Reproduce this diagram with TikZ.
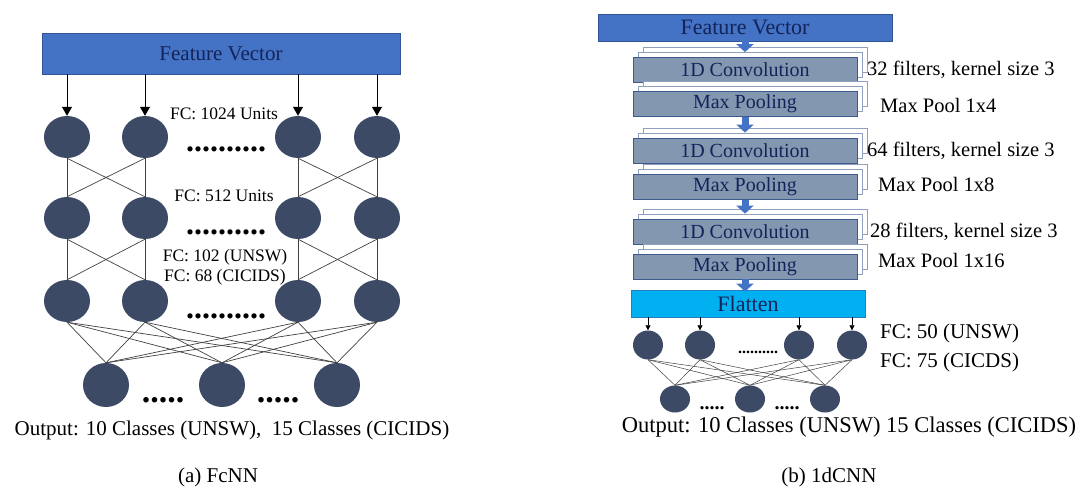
\documentclass[tikz,border=0pt]{standalone}
\usepackage{fontspec}
\setmainfont{Liberation Serif}
\usetikzlibrary{shapes.geometric,arrows.meta,calc}
\definecolor{fvblue}{HTML}{4472C4}
\definecolor{fvedge}{HTML}{2F5597}
\definecolor{navytext}{HTML}{14245A}
\definecolor{neuron}{HTML}{3C4A66}
\definecolor{linegray}{HTML}{404040}
\definecolor{layerfill}{HTML}{8497B0}
\definecolor{layeredge}{HTML}{3E5A8C}
\definecolor{backedge}{HTML}{8FA0BC}
\definecolor{flatfill}{HTML}{00B0F0}
\definecolor{flatedge}{HTML}{1F7FC0}
\newcommand\myfs[1]{\fontsize{#1}{#1}\selectfont}
\newcommand\cnnlayer[3]{%
  \node[backlayer] (#1b2) at (755,#2-10) {};
  \node[backlayer] (#1b1) at (750,#2-5) {};
  \node[frontlayer] (#1) at (745,#2) {#3};
}
\begin{document}
\begin{tikzpicture}[x=1pt,y=-1pt,
  neuronL/.style={ellipse, fill=neuron, draw=none, minimum width=46pt, minimum height=42pt, inner sep=0pt},
  neuronR/.style={ellipse, fill=neuron, draw=none, minimum width=30pt, minimum height=29pt, inner sep=0pt},
  neuronRo/.style={ellipse, fill=neuron, draw=none, minimum width=30pt, minimum height=27pt, inner sep=0pt},
  conn/.style={draw=linegray, line width=0.7pt},
  arrL/.style={draw=black, line width=0.9pt, -{Triangle[width=10pt,length=9pt]}},
  arrR/.style={draw=black, line width=0.7pt, -{Triangle[width=5pt,length=5pt]}},
  blockarrow/.style={draw=fvblue, line width=7pt, -{Triangle[width=17pt,length=8pt]}},
  fvbox/.style={rectangle, fill=fvblue, draw=fvedge, line width=0.8pt, text=navytext, inner sep=0pt},
  backlayer/.style={rectangle, minimum width=224pt, minimum height=25pt, fill=white, draw=backedge, line width=0.8pt, inner sep=0pt},
  frontlayer/.style={rectangle, minimum width=224pt, minimum height=25pt, fill=layerfill, draw=layeredge, line width=0.8pt, text=navytext, font=\myfs{20}, inner sep=0pt},
  lbl/.style={inner sep=0pt, text=black},
  dotsL/.style={inner sep=0pt, anchor=base, font=\bfseries\myfs{32}},
]
\useasboundingbox (0,0) rectangle (1086,489);

% ---------------- Left panel (FcNN) ----------------
\node[fvbox, minimum width=358pt, minimum height=41pt, font=\myfs{21}] (fv1) at (221,53.5) {Feature Vector};

\node[neuronL] (a1) at (67,137) {};
\node[neuronL] (a2) at (145,137) {};
\node[neuronL] (a3) at (298,137) {};
\node[neuronL] (a4) at (377,137) {};
\node[neuronL] (b1) at (67,218) {};
\node[neuronL] (b2) at (145,218) {};
\node[neuronL] (b3) at (298,218) {};
\node[neuronL] (b4) at (377,218) {};
\node[neuronL] (c1) at (67,301) {};
\node[neuronL] (c2) at (145,301) {};
\node[neuronL] (c3) at (298,301) {};
\node[neuronL] (c4) at (377,301) {};
\node[neuronL, minimum height=44pt] (o1) at (106,385) {};
\node[neuronL, minimum height=44pt] (o2) at (222,385) {};
\node[neuronL, minimum height=44pt] (o3) at (337,385) {};

\foreach \n in {a1,a2,a3,a4} \draw[arrL] (fv1.south -| \n) -- (\n.north);

\foreach \u/\v in {a1/b1,a1/b2,a2/b1,a2/b2,a3/b3,a3/b4,a4/b3,a4/b4,
                   b1/c1,b1/c2,b2/c1,b2/c2,b3/c3,b3/c4,b4/c3,b4/c4}
  \draw[conn] (\u.south) -- (\v.north);
\foreach \u in {c1,c2,c3,c4}
  \foreach \v in {o1,o2,o3}
    \draw[conn] (\u.south) -- (\v.north);

\node[lbl, font=\myfs{17.5}] (l1) at (224,114) {FC: 1024 Units};
\node[lbl, font=\myfs{17.5}] (l2) at (224,196) {FC: 512 Units};
\node[lbl, font=\myfs{17.5}] (l3) at (225,257) {FC: 102 (UNSW)};
\node[lbl, font=\myfs{17.5}] (l4) at (225,277) {FC: 68 (CICIDS)};

\node[dotsL] (d1) at (226,152) {..........};
\node[dotsL] (d2) at (226,234) {..........};
\node[dotsL] (d3) at (226,318) {..........};
\node[dotsL, font=\bfseries\myfs{34}] (d4) at (163,402) {.....};
\node[dotsL, font=\bfseries\myfs{34}] (d5) at (278,402) {.....};

\node[lbl, font=\myfs{21}] (outL) at (232,430) {Output: 10 Classes (UNSW),\ \ 15 Classes (CICIDS)};
\node[lbl, font=\myfs{21}] (capA) at (218,477) {(a) FcNN};

% ---------------- Right panel (1dCNN) ----------------
\node[fvbox, minimum width=294pt, minimum height=27pt, font=\myfs{22}] (fv2) at (745,27.5) {Feature Vector};

\cnnlayer{conv1}{70}{1D Convolution}
\cnnlayer{pool1}{104}{Max Pooling}
\cnnlayer{conv2}{150.5}{1D Convolution}
\cnnlayer{pool2}{187}{Max Pooling}
\cnnlayer{conv3}{231.5}{1D Convolution}
\cnnlayer{pool3}{266.5}{Max Pooling}

\node[rectangle, minimum width=234pt, minimum height=27pt, fill=flatfill, draw=flatedge, line width=0.8pt, text=navytext, font=\myfs{22}, inner sep=0pt] (flat) at (748,303.5) {Flatten};

\draw[blockarrow] (fv2.south) -- (fv2.south |- conv1b1.north);
\draw[blockarrow] (pool1.south) -- (pool1.south |- conv2b1.north);
\draw[blockarrow] (pool2.south) -- (pool2.south |- conv3b1.north);
\draw[blockarrow] (pool3.south) -- ($(pool3.south |- flat.north)+(0,2)$);

\node[lbl, anchor=west, font=\myfs{20.5}] (t1) at (867,70) {32 filters, kernel size 3};
\node[lbl, anchor=west, font=\myfs{20.5}] (t2) at (880,105) {Max Pool 1x4};
\node[lbl, anchor=west, font=\myfs{20.5}] (t3) at (867,151) {64 filters, kernel size 3};
\node[lbl, anchor=west, font=\myfs{20.5}] (t4) at (878,184) {Max Pool 1x8};
\node[lbl, anchor=west, font=\myfs{20.5}] (t5) at (870,232) {28 filters, kernel size 3};
\node[lbl, anchor=west, font=\myfs{20.5}] (t6) at (878,260) {Max Pool 1x16};

\node[neuronR] (r1) at (648,345) {};
\node[neuronR] (r2) at (700,345) {};
\node[neuronR] (r3) at (799,345) {};
\node[neuronR] (r4) at (852,345) {};
\node[neuronRo] (p1) at (675,399) {};
\node[neuronRo] (p2) at (750,399) {};
\node[neuronRo] (p3) at (825,399) {};

\foreach \n in {r1,r2,r3,r4} \draw[arrR] (flat.south -| \n) -- (\n.north);
\foreach \u in {r1,r2,r3,r4}
  \foreach \v in {p1,p2,p3}
    \draw[conn, line width=0.5pt] (\u.south) -- (\v.north);

\node[dotsL, font=\bfseries\myfs{16}] (e1) at (758,353) {..........};
\node[dotsL, font=\bfseries\myfs{20}] (e2) at (712,409) {.....};
\node[dotsL, font=\bfseries\myfs{20}] (e3) at (787,409) {.....};

\node[lbl, anchor=west, font=\myfs{21}] (t7) at (880,333) {FC: 50 (UNSW)};
\node[lbl, anchor=west, font=\myfs{21}] (t8) at (880,362) {FC: 75 (CICDS)};

\node[lbl, font=\myfs{22.5}] (outR) at (849,427) {Output: 10 Classes (UNSW) 15 Classes (CICIDS)};
\node[lbl, font=\myfs{21}] (capB) at (829,477) {(b) 1dCNN};
\end{tikzpicture}
\end{document}
